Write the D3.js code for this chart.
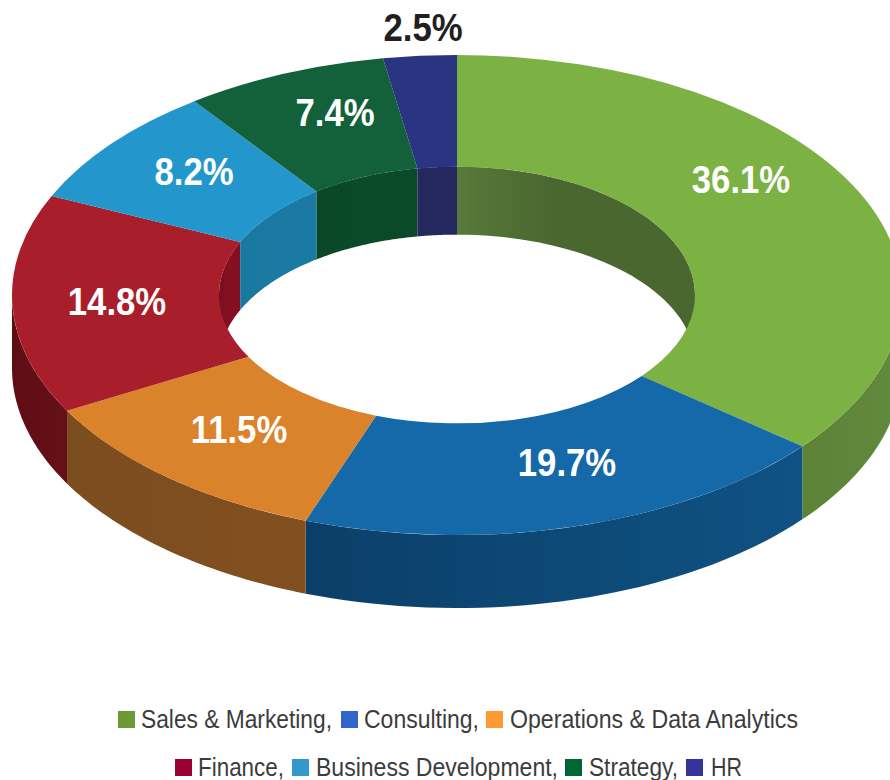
<!DOCTYPE html>
<meta charset="utf-8">

<style>

body { margin: 0; background: #fff; }

svg { display: block; }

.pct {
  font-family: "Liberation Sans", sans-serif;
  font-weight: bold;
  font-size: 39px;
  text-anchor: middle;
}

.legend text {
  font-family: "Liberation Sans", sans-serif;
  font-size: 25px;
  fill: #3c3c3c;
}

</style>

<svg width="890" height="780"></svg>

<script src="https://d3js.org/d3.v7.min.js"></script>

<script>

var categories = ["Sales & Marketing", "Consulting", "Operations & Data Analytics", "Finance", "Business Development", "Strategy", "HR"];
var shares = [36.1, 19.7, 11.5, 14.8, 8.2, 7.4, 2.5];
var labels = ["36.1%", "19.7%", "11.5%", "14.8%", "8.2%", "7.4%", "2.5%"];

var topColors = ["#7cb144", "#1569a9", "#db832a", "#a81e2a", "#2397cb", "#12613a", "#2a3480"];
var legendColors = ["#6b9a35", "#3366cc", "#ff9933", "#990033", "#3399cc", "#006633", "#333399"];
// outer wall, left to right
var outerFrom = ["#5c8238", "#0b3f69", "#7c4d1f", "#5f0d15", "#1a7aa3", "#0a4726", "#25285f"];
var outerTo = ["#628a3c", "#0f5283", "#824f20", "#660f17", "#1a7aa3", "#0a4726", "#25285f"];
// inner wall, left to right
var innerFrom = ["#587a3a", "#0e4f7e", "#7f4f20", "#750f1e", "#1a789f", "#0a4726", "#25285f"];
var innerTo = ["#4a672f", "#0e4f7e", "#7f4f20", "#850f20", "#1a7aa3", "#0a4a28", "#25285f"];

var svg = d3.select("svg");

var cx = 457, cy = 295;
var outerR = 445, innerR = 238;
var squash = 240 / 445;
var outerDepth = 73, innerDepth = 68;

var pie = d3.pie().sort(null).value(function(d) { return d; });
var slices = pie(shares);

// the original's inner seams sit a touch behind the true angles, the top seam does not
var tilt = 0.6 * Math.PI / 180;
slices.forEach(function(s, i) {
  if (i > 0) s.startAngle -= tilt;
  if (i < slices.length - 1) s.endAngle -= tilt;
});

var arc = d3.arc().innerRadius(innerR).outerRadius(outerR);

// clockwise from the top, as d3.arc does it
function px(r, a) { return cx + r * Math.sin(a); }
function py(r, a) { return cy - r * squash * Math.cos(a); }

// one wall piece: the rim between a0 and a1, and the same rim pushed down
function wall(r, depth, a0, a1) {
  var n = 40, rim = [];
  for (var i = 0; i <= n; i++) {
    var a = a0 + (a1 - a0) * i / n;
    rim.push([px(r, a), py(r, a)]);
  }
  var low = rim.map(function(p) { return [p[0], p[1] + depth]; }).reverse();
  return d3.line()(rim.concat(low)) + "Z";
}

var defs = svg.append("defs");

function gradient(id, from, to, stop) {
  var g = defs.append("linearGradient").attr("id", id);
  g.append("stop").attr("offset", 0).attr("stop-color", from);
  g.append("stop").attr("offset", stop).attr("stop-color", to);
}

shares.forEach(function(d, i) {
  gradient("outer" + i, outerFrom[i], outerTo[i], 1);
  gradient("inner" + i, innerFrom[i], innerTo[i], 0.4);
});

var pi = Math.PI;
var innerPieces = [], outerPieces = [];

slices.forEach(function(s) {
  // the hole only shows the back of the ring, the outside only the front
  [[0, pi / 2], [3 * pi / 2, 2 * pi]].forEach(function(w) {
    var a0 = Math.max(s.startAngle, w[0]), a1 = Math.min(s.endAngle, w[1]);
    if (a1 > a0) innerPieces.push({ i: s.index, a0: a0, a1: a1 });
  });
  var b0 = Math.max(s.startAngle, pi / 2), b1 = Math.min(s.endAngle, 3 * pi / 2);
  if (b1 > b0) outerPieces.push({ i: s.index, a0: b0, a1: b1 });
});

svg.append("g").selectAll("path").data(innerPieces).enter().append("path")
    .attr("d", function(d) { return wall(innerR, innerDepth, d.a0, d.a1); })
    .attr("fill", function(d) { return "url(#inner" + d.i + ")"; });

svg.append("g").selectAll("path").data(outerPieces).enter().append("path")
    .attr("d", function(d) { return wall(outerR, outerDepth, d.a0, d.a1); })
    .attr("fill", function(d) { return "url(#outer" + d.i + ")"; });

svg.append("g")
    .attr("transform", "translate(" + cx + "," + cy + ") scale(1," + squash + ")")
  .selectAll("path").data(slices).enter().append("path")
    .attr("d", arc)
    .attr("fill", function(d, i) { return topColors[i]; });

// labels were placed by hand in the original, not on the centroids
var labelX = [741, 567, 239, 117, 194, 335, 423];
var labelY = [193, 476, 443, 315, 185, 126, 41];

svg.append("g").selectAll("text").data(labels).enter().append("text")
    .attr("class", "pct")
    .attr("transform", function(d, i) { return "translate(" + labelX[i] + "," + labelY[i] + ") scale(0.89,1)"; })
    .attr("fill", function(d, i) { return i == 6 ? "#231f20" : "#fff"; })
    .text(function(d) { return d; });

// legend, two rows
var legendSquareX = [118, 341, 486, 175, 292, 565, 686];
var legendTextX = [141, 364, 510, 198, 316, 589, 711];
var legendTextW = [191, 115, 288, 86, 242, 89, 31];
var legendRow = [0, 0, 0, 1, 1, 1, 1];
var rowTop = [711, 759];

var legend = svg.append("g").attr("class", "legend");

legend.selectAll("rect").data(categories).enter().append("rect")
    .attr("x", function(d, i) { return legendSquareX[i]; })
    .attr("y", function(d, i) { return rowTop[legendRow[i]]; })
    .attr("width", 17)
    .attr("height", 17)
    .attr("fill", function(d, i) { return legendColors[i]; });

legend.selectAll("text").data(categories).enter().append("text")
    .attr("x", function(d, i) { return legendTextX[i]; })
    .attr("y", function(d, i) { return rowTop[legendRow[i]] + 17; })
    .attr("textLength", function(d, i) { return legendTextW[i]; })
    .attr("lengthAdjust", "spacingAndGlyphs")
    .text(function(d, i) { return i == 2 || i == 6 ? d : d + ","; });

</script>
